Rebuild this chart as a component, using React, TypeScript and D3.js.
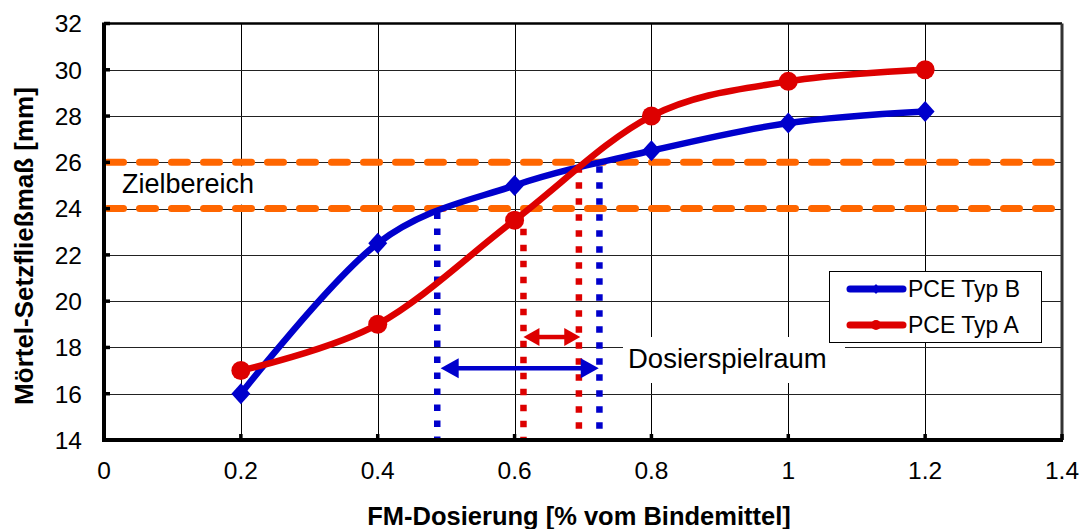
import React from "react";
import * as d3 from "d3";

const xTicks = [0, 0.2, 0.4, 0.6, 0.8, 1, 1.2, 1.4];
const yTicks = [14, 16, 18, 20, 22, 24, 26, 28, 30, 32];
const dosage = [0.2, 0.4, 0.6, 0.8, 1.0, 1.2];
const typB = [16, 22.5, 25, 26.5, 27.7, 28.2];
const typA = [17, 19, 23.5, 28, 29.5, 30];
const seriesNames = ["PCE Typ B", "PCE Typ A"];
const targetLevels = [24, 26];
// dotted limits: [x, top value]
const blueLimits = [
  [0.487, 24],
  [0.724, 26],
];
const redLimits = [
  [0.613, 23.3],
  [0.694, 26],
];
// arrows: [x1, x2, y]
const blueArrow = [0.492, 0.723, 17.1];
const redArrow = [0.613, 0.696, 18.45];

const W = 1082;
const H = 529;
const BLUE = "#0000CC";
const RED = "#DD0000";
const ORANGE = "#FF6600";
const FONT = "'Liberation Sans', Arial, sans-serif";

export default function App() {
  const x = d3.scaleLinear().domain([0, 1.4]).range([104, 1062]);
  const y = d3.scaleLinear().domain([14, 32]).range([440, 23.5]);
  const line = d3
    .line<[number, number]>()
    .x((d) => x(d[0]))
    .y((d) => y(d[1]))
    .curve(d3.curveCardinal.tension(0));
  const ptsB: [number, number][] = dosage.map((d, i) => [d, typB[i]]);
  const ptsA: [number, number][] = dosage.map((d, i) => [d, typA[i]]);

  const arrow = (a: number[], color: string, hl: number, hw: number, sw: number) => {
    const x1 = x(a[0]);
    const x2 = x(a[1]);
    const yy = y(a[2]);
    return (
      <g>
        <line x1={x1 + hl - 2} x2={x2 - hl + 2} y1={yy} y2={yy} stroke={color} strokeWidth={sw} />
        <path d={`M${x1},${yy} L${x1 + hl},${yy - hw} L${x1 + hl},${yy + hw} Z`} fill={color} />
        <path d={`M${x2},${yy} L${x2 - hl},${yy - hw} L${x2 - hl},${yy + hw} Z`} fill={color} />
      </g>
    );
  };

  const diamond = (cx: number, cy: number, r: number, color: string, key?: any) => (
    <path key={key} d={`M${cx},${cy - r} L${cx + r * 0.9},${cy} L${cx},${cy + r} L${cx - r * 0.9},${cy} Z`} fill={color} />
  );

  return (
    <svg width={W} height={H} style={{ position: "absolute", left: 0, top: 0, background: "#fff" }} fontFamily={FONT}>
      <rect x={0} y={0} width={W} height={H} fill="#fff" />
      {/* grid */}
      {xTicks.slice(1, -1).map((t) => (
        <line key={"gx" + t} x1={Math.round(x(t)) + 0.5} x2={Math.round(x(t)) + 0.5} y1={y(32)} y2={y(14)} stroke="#000" strokeWidth={1} />
      ))}
      {yTicks.slice(1, -1).map((t) => (
        <line key={"gy" + t} x1={x(0)} x2={x(1.4)} y1={Math.round(y(t)) + 0.5} y2={Math.round(y(t)) + 0.5} stroke="#222" strokeWidth={1} />
      ))}
      {/* label boxes */}
      <rect x={107} y={y(26) + 4} width={165} height={y(24) - y(26) - 8} fill="#fff" />
      <rect x={623} y={337} width={222} height={46} fill="#fff" />
      {/* target band */}
      {targetLevels.map((v) => (
        <line key={"t" + v} x1={x(0) + 3.5} x2={x(1.4)} y1={y(v)} y2={y(v)} stroke={ORANGE} strokeWidth={7} strokeDasharray="16 16" strokeLinecap="round" />
      ))}
      <text x={122} y={193} fontSize={27} fill="#000">Zielbereich</text>
      {/* dotted limits */}
      {blueLimits.map((b, i) => (
        <line key={"bl" + i} x1={x(b[0])} x2={x(b[0])} y1={y(b[1]) + 4} y2={y(14)} stroke={BLUE} strokeWidth={6.5} strokeDasharray="6.5 9.5" />
      ))}
      {redLimits.map((b, i) => (
        <line key={"rl" + i} x1={x(b[0])} x2={x(b[0])} y1={y(b[1]) + 4} y2={y(14)} stroke={RED} strokeWidth={6.5} strokeDasharray="6.5 9.5" />
      ))}
      {arrow(blueArrow, BLUE, 18, 10, 4.5)}
      {arrow(redArrow, RED, 16, 9, 4.5)}
      <text x={628} y={368} fontSize={27.5} fill="#000">Dosierspielraum</text>
      {/* series */}
      <path d={line(ptsB) || ""} fill="none" stroke={BLUE} strokeWidth={6.5} strokeLinejoin="round" />
      <path d={line(ptsA) || ""} fill="none" stroke={RED} strokeWidth={6.5} strokeLinejoin="round" />
      {ptsB.map((p, i) => diamond(x(p[0]), y(p[1]), 10.5, BLUE, "db" + i))}
      {ptsA.map((p, i) => (
        <circle key={"ca" + i} cx={x(p[0])} cy={y(p[1])} r={9.5} fill={RED} />
      ))}
      {/* frame */}
      <line x1={x(0)} x2={x(1.4)} y1={y(32)} y2={y(32)} stroke="#000" strokeWidth={2.5} />
      <line x1={x(1.4)} x2={x(1.4)} y1={y(32)} y2={y(14)} stroke="#333" strokeWidth={3} />
      <line x1={x(0)} x2={x(0)} y1={y(32) - 1} y2={y(14) + 2} stroke="#000" strokeWidth={4} />
      <line x1={x(0) - 2} x2={x(1.4) + 1} y1={y(14)} y2={y(14)} stroke="#000" strokeWidth={4} />
      {/* tick marks */}
      {yTicks.map((t) => (
        <line key={"ty" + t} x1={x(0)} x2={x(0) + 6} y1={y(t)} y2={y(t)} stroke="#000" strokeWidth={3.5} />
      ))}
      {xTicks.map((t) => (
        <line key={"tx" + t} x1={x(t)} x2={x(t)} y1={y(14)} y2={y(14) - 6} stroke="#000" strokeWidth={3.5} />
      ))}
      {/* tick labels */}
      {yTicks.map((t) => (
        <text key={"ly" + t} x={82} y={y(t)} dy="0.36em" textAnchor="end" fontSize={24.5} fill="#000">
          {t}
        </text>
      ))}
      {xTicks.map((t) => (
        <text key={"lx" + t} x={x(t)} y={479} textAnchor="middle" fontSize={24.5} fill="#000">
          {t}
        </text>
      ))}
      {/* axis titles */}
      <text x={579} y={525} textAnchor="middle" fontSize={25.5} fontWeight="bold" fill="#000">
        FM-Dosierung [% vom Bindemittel]
      </text>
      <text transform={`translate(33,${246}) rotate(-90)`} textAnchor="middle" fontSize={26} fontWeight="bold" fill="#000">
        Mörtel-Setzfließmaß [mm]
      </text>
      {/* legend */}
      <rect x={829.5} y={271.5} width={212} height={71} fill="#fff" stroke="#000" strokeWidth={1} />
      <line x1={850} x2={903} y1={289} y2={289} stroke={BLUE} strokeWidth={7} strokeLinecap="round" />
      {diamond(876, 289, 5, BLUE)}
      <line x1={850} x2={903} y1={325} y2={325} stroke={RED} strokeWidth={7} strokeLinecap="round" />
      <circle cx={876} cy={325} r={5} fill={RED} />
      <text x={908} y={297} fontSize={23} fill="#000">{seriesNames[0]}</text>
      <text x={908} y={333} fontSize={23} fill="#000">{seriesNames[1]}</text>
    </svg>
  );
}
